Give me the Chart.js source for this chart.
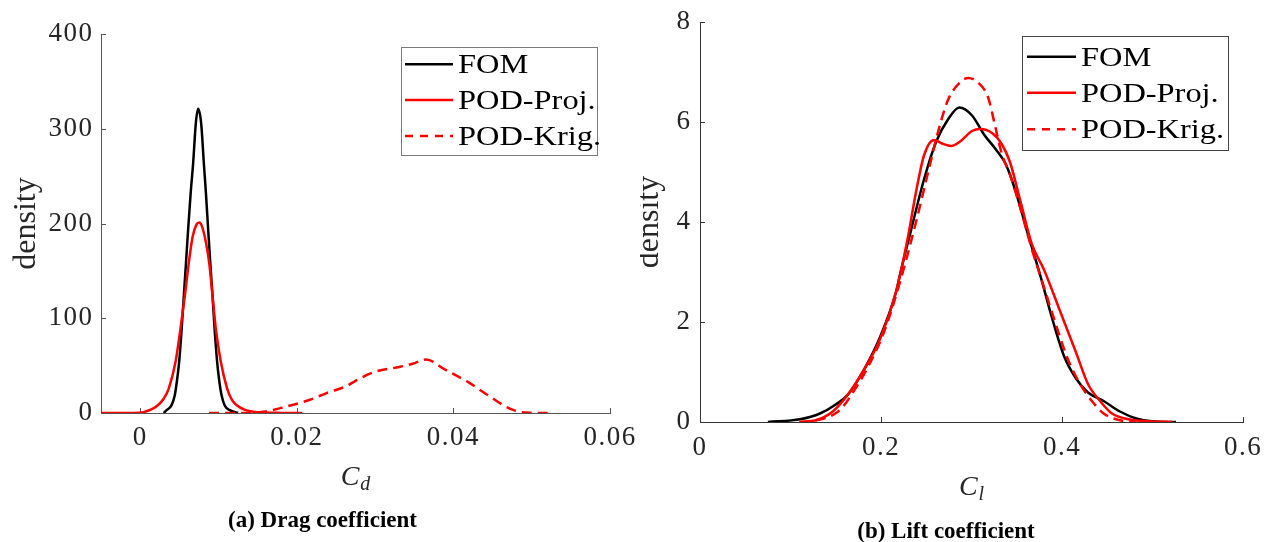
<!DOCTYPE html>
<html><head><meta charset="utf-8">
<script src="https://cdn.jsdelivr.net/npm/chart.js@4.4.1/dist/chart.umd.min.js"></script>
<style>
html,body{margin:0;padding:0;background:#fff;width:1264px;height:542px;overflow:hidden;}
#left{position:absolute;left:0;top:0;width:640px;height:542px;}
#right{position:absolute;left:640px;top:0;width:624px;height:542px;}
canvas{display:block;}
</style></head><body>
<div id="left"><canvas id="c1" width="640" height="542"></canvas></div>
<div id="right"><canvas id="c2" width="624" height="542"></canvas></div>
<script>
// ---- series names ----
const seriesNames = ['FOM', 'POD-Proj.', 'POD-Krig.'];

// ---- (a) Drag coefficient densities ----
const dragFomX = [0.0030,0.00337,0.0040,0.00443,0.0047,0.00498,0.00528,0.00558,0.00585,0.00613,0.00645,0.00677,0.0071,0.0074,0.0078,0.00813,0.0084,0.00868,0.00896,0.00924,0.00953,0.00983,0.0101,0.01039,0.0108,0.01145,0.0125];
const dragFomY = [0,3,8,19,34,54,86,124,158,194,232,264,305,321,305,264,232,194,158,124,86,54,34,19,8,3,0];
const dragProjX = [-0.005,-0.002,0.0,0.0006,0.0015,0.0023,0.0030,0.00366,0.00452,0.00515,0.00571,0.00622,0.0067,0.0072,0.00753,0.0079,0.0084,0.00881,0.00924,0.00966,0.0103,0.0111,0.0117,0.0123,0.0133,0.0144,0.016,0.018,0.0207];
const dragProjY = [0,0,0.3,1.4,4,8.4,15,26,54,89,124,159,186,199,201,197,180,159,124,89,54,26,14,8.4,3.5,1.4,0.4,0.1,0];
const dragKrigX = [0.0088,0.012,0.014,0.016,0.0186,0.0217,0.0238,0.0264,0.0275,0.0298,0.0331,0.0348,0.0365,0.0389,0.0420,0.0446,0.0467,0.0483,0.0498,0.0523];
const dragKrigY = [0,0,0.3,1.5,6.7,14,21,28.6,34,43,48.6,52,56.5,46,32,17.7,6.7,1.5,0.2,0];
const dragXTicks = [0, 0.02, 0.04, 0.06];
const dragXTickLabels = ['0', '0.02', '0.04', '0.06'];
const dragYTicks = [0, 100, 200, 300, 400];
const dragYTickLabels = ['0', '100', '200', '300', '400'];

// ---- (b) Lift coefficient densities ----
const liftFomX = [0.075,0.1105,0.1326,0.150,0.1635,0.181,0.199,0.2166,0.221,0.232,0.2475,0.2608,0.274,0.2866,0.3006,0.3138,0.327,0.338,0.349,0.3624,0.3757,0.389,0.4022,0.4155,0.4287,0.446,0.464,0.482,0.4994,0.526];
const liftFomY = [0,0.055,0.17,0.35,0.55,1.04,1.7,2.6,2.95,3.75,4.85,5.6,6.05,6.29,6.13,5.75,5.45,5.15,4.6,3.75,2.95,2.08,1.32,0.87,0.59,0.42,0.21,0.07,0.014,0];
const liftProjX = [0.1096,0.128,0.146,0.1635,0.181,0.199,0.2166,0.2298,0.2387,0.2475,0.2586,0.2674,0.2776,0.2873,0.3006,0.3094,0.3227,0.3337,0.3425,0.3536,0.3668,0.38,0.3978,0.4155,0.4287,0.442,0.4552,0.473,0.495,0.5215];
const liftProjY = [0,0.035,0.2,0.55,1.04,1.66,2.6,3.7,4.6,5.33,5.64,5.57,5.52,5.61,5.82,5.86,5.78,5.55,5.2,4.45,3.55,3.05,2.22,1.39,0.76,0.42,0.17,0.055,0.014,0];
const liftKrigX = [0.1105,0.137,0.1547,0.1724,0.1856,0.2033,0.221,0.2387,0.252,0.263,0.274,0.2873,0.2965,0.3094,0.3182,0.327,0.3337,0.3425,0.3536,0.3668,0.38,0.3934,0.4066,0.42,0.433,0.446,0.464,0.482];
const liftKrigY = [0,0.07,0.24,0.69,1.1,1.8,2.8,4.0,4.99,5.8,6.44,6.79,6.88,6.75,6.5,5.85,5.35,4.95,4.3,3.45,2.7,1.94,1.25,0.76,0.42,0.17,0.035,0];
const liftXTicks = [0, 0.2, 0.4, 0.6];
const liftXTickLabels = ['0', '0.2', '0.4', '0.6'];
const liftYTicks = [0, 2, 4, 6, 8];
const liftYTickLabels = ['0', '2', '4', '6', '8'];

const FONT = '"Liberation Serif", "Times New Roman", serif';
const TXT = '#262626';

function pts(xs, ys) { return xs.map((x, i) => ({x: x, y: ys[i]})); }

// widen tick-label glyph spacing a little (reference font is wider than Times)
const tickSpacing = {
  id: 'tickSpacing',
  beforeUpdate(chart) { chart.ctx.letterSpacing = '1.5px'; },
  beforeDraw(chart) { chart.ctx.letterSpacing = '1.5px'; },
  beforeDatasetsDraw(chart) { chart.ctx.letterSpacing = '0px'; }
};

const inwardTicks = {
  id: 'inwardTicks',
  beforeDatasetsDraw(chart, args, o) {
    const ctx = chart.ctx, ca = chart.chartArea;
    const xs = chart.scales.x, ys = chart.scales.y;
    ctx.save();
    ctx.strokeStyle = o.color; ctx.lineWidth = 1;
    ctx.beginPath();
    xs.ticks.forEach(t => {
      const p = Math.round(xs.getPixelForValue(t.value)) + 0.5;
      ctx.moveTo(p, ca.bottom); ctx.lineTo(p, ca.bottom - o.len);
    });
    ys.ticks.forEach(t => {
      const p = Math.round(ys.getPixelForValue(t.value)) + 0.5;
      ctx.moveTo(ca.left, p); ctx.lineTo(ca.left + o.len, p);
    });
    ctx.stroke();
    ctx.restore();
  }
};

const boxLegend = {
  id: 'boxLegend',
  afterDraw(chart, args, o) {
    const ctx = chart.ctx;
    ctx.save();
    ctx.letterSpacing = '0px';
    ctx.fillStyle = '#fff';
    ctx.fillRect(o.x0, o.y0, o.x1 - o.x0, o.y1 - o.y0);
    ctx.strokeStyle = o.boxColor; ctx.lineWidth = 1;
    ctx.strokeRect(Math.round(o.x0) + 0.5, Math.round(o.y0) + 0.5, Math.round(o.x1 - o.x0), Math.round(o.y1 - o.y0));
    chart.data.datasets.forEach((ds, i) => {
      const y = o.rows[i];
      ctx.strokeStyle = ds.borderColor;
      ctx.lineWidth = ds.borderWidth;
      ctx.setLineDash(ds.borderDash ? o.dash : []);
      ctx.beginPath(); ctx.moveTo(o.lx0, y); ctx.lineTo(o.lx1, y); ctx.stroke();
      ctx.setLineDash([]);
      ctx.save();
      ctx.fillStyle = '#000';
      ctx.font = o.fontSize + 'px ' + FONT;
      ctx.textAlign = 'left'; ctx.textBaseline = 'alphabetic';
      ctx.translate(o.tx, y + o.fontSize * 0.33);
      ctx.scale(o.stretch, 1);
      ctx.fillText(ds.label, 0, 0);
      ctx.restore();
    });
    ctx.restore();
  }
};

const axisText = {
  id: 'axisText',
  afterDraw(chart, args, o) {
    const ctx = chart.ctx, ca = chart.chartArea;
    ctx.save();
    ctx.letterSpacing = '0px';
    ctx.fillStyle = TXT;
    ctx.textBaseline = 'alphabetic'; ctx.textAlign = 'left';
    ctx.font = 'italic 28px ' + FONT;
    const w1 = ctx.measureText(o.xMain).width;
    ctx.font = 'italic 20px ' + FONT;
    const w2 = ctx.measureText(o.xSub).width;
    const cx = (ca.left + ca.right) / 2;
    const x0 = cx - (w1 + w2 + 1) / 2;
    ctx.font = 'italic 28px ' + FONT;
    ctx.fillText(o.xMain, x0, o.xBase);
    ctx.font = 'italic 20px ' + FONT;
    ctx.fillText(o.xSub, x0 + w1 + 1, o.xBase + 5);
    ctx.restore();

    ctx.save();
    ctx.letterSpacing = '0px';
    ctx.fillStyle = TXT;
    ctx.translate(o.yX, (ca.top + ca.bottom) / 2);
    ctx.rotate(-Math.PI / 2);
    ctx.font = '32px ' + FONT;
    ctx.textAlign = 'center'; ctx.textBaseline = 'alphabetic';
    ctx.fillText(o.yTitle, 0, 0);
    ctx.restore();

    ctx.save();
    ctx.letterSpacing = '0px';
    ctx.fillStyle = '#000';
    ctx.font = 'bold 23px ' + FONT;
    ctx.textAlign = 'center'; ctx.textBaseline = 'alphabetic';
    ctx.fillText(o.caption, o.capX, o.capY);
    ctx.restore();
  }
};

function makeChart(id, cfg) {
  const datasets = [
    {label: seriesNames[0], data: pts(cfg.fx, cfg.fy), borderColor: '#000000', borderWidth: 2.5, order: 3},
    {label: seriesNames[1], data: pts(cfg.px, cfg.py), borderColor: '#ff0000', borderWidth: 2.5, order: 2},
    {label: seriesNames[2], data: pts(cfg.kx, cfg.ky), borderColor: '#ff0000', borderWidth: 2.5, borderDash: [10, 6], order: 1}
  ];
  return new Chart(document.getElementById(id), {
    type: 'line',
    data: {datasets: datasets},
    plugins: [tickSpacing, inwardTicks, boxLegend, axisText],
    options: {
      responsive: false, animation: false, devicePixelRatio: 1,
      layout: {padding: {left: 0, top: cfg.top, right: cfg.right, bottom: 0}},
      elements: {point: {radius: 0, hoverRadius: 0}, line: {cubicInterpolationMode: 'monotone', fill: false}},
      plugins: {
        legend: {display: false}, tooltip: {enabled: false},
        inwardTicks: {color: cfg.axisColor, len: 5},
        boxLegend: cfg.legend,
        axisText: cfg.text
      },
      scales: {
        x: {
          type: 'linear', min: cfg.xmin, max: cfg.xmax,
          afterBuildTicks: s => { s.ticks = cfg.xt.map(v => ({value: v})); },
          afterFit: s => { s.height = cfg.xh; s.paddingLeft = 0; s.paddingRight = 0; },
          grid: {display: false, drawTicks: false},
          border: {display: true, color: cfg.axisColor, width: 1},
          ticks: {autoSkip: false, maxRotation: 0, padding: cfg.xpad, color: TXT,
                  font: {family: FONT, size: 27, lineHeight: 1.2},
                  callback: v => cfg.xl[cfg.xt.indexOf(v)]}
        },
        y: {
          type: 'linear', min: cfg.ymin, max: cfg.ymax,
          afterBuildTicks: s => { s.ticks = cfg.yt.map(v => ({value: v})); },
          afterFit: s => { s.width = cfg.yw; s.paddingTop = 0; s.paddingBottom = 0; },
          grid: {display: false, drawTicks: false},
          border: {display: true, color: cfg.axisColor, width: 1},
          ticks: {autoSkip: false, padding: cfg.ypad, color: TXT,
                  font: {family: FONT, size: 27, lineHeight: 1.2},
                  callback: v => cfg.yl[cfg.yt.indexOf(v)]}
        }
      }
    }
  });
}

makeChart('c1', {
  fx: dragFomX, fy: dragFomY, px: dragProjX, py: dragProjY, kx: dragKrigX, ky: dragKrigY,
  xmin: -0.005, xmax: 0.06, ymin: 0, ymax: 400,
  xt: dragXTicks, xl: dragXTickLabels, yt: dragYTicks, yl: dragYTickLabels,
  top: 34, right: 30, xh: 129, yw: 101, xpad: 9, ypad: 7.5, axisColor: '#555555',
  legend: {x0: 401, y0: 47, x1: 597, y1: 155, lx0: 405, lx1: 453, rows: [64.3, 100, 136], tx: 458, fontSize: 27, stretch: 1.2, boxColor: '#7a7a7a', dash: [8, 7]},
  text: {xMain: 'C', xSub: 'd', xBase: 485, yX: 35, yTitle: 'density', caption: '(a) Drag coefficient', capX: 322.5, capY: 527}
});

makeChart('c2', {
  fx: liftFomX, fy: liftFomY, px: liftProjX, py: liftProjY, kx: liftKrigX, ky: liftKrigY,
  xmin: 0, xmax: 0.6, ymin: 0, ymax: 8,
  xt: liftXTicks, xl: liftXTickLabels, yt: liftYTicks, yl: liftYTickLabels,
  top: 22, right: 21, xh: 120, yw: 60, xpad: 10, ypad: 8.5, axisColor: '#333333',
  legend: {x0: 382, y0: 36, x1: 588, y1: 150, lx0: 387, lx1: 436, rows: [56.7, 92.7, 129.3], tx: 441, fontSize: 27, stretch: 1.2, boxColor: '#444444', dash: [8, 7]},
  text: {xMain: 'C', xSub: 'l', xBase: 495, yX: 18, yTitle: 'density', caption: '(b) Lift coefficient', capX: 306, capY: 538}
});
</script>
</body></html>
